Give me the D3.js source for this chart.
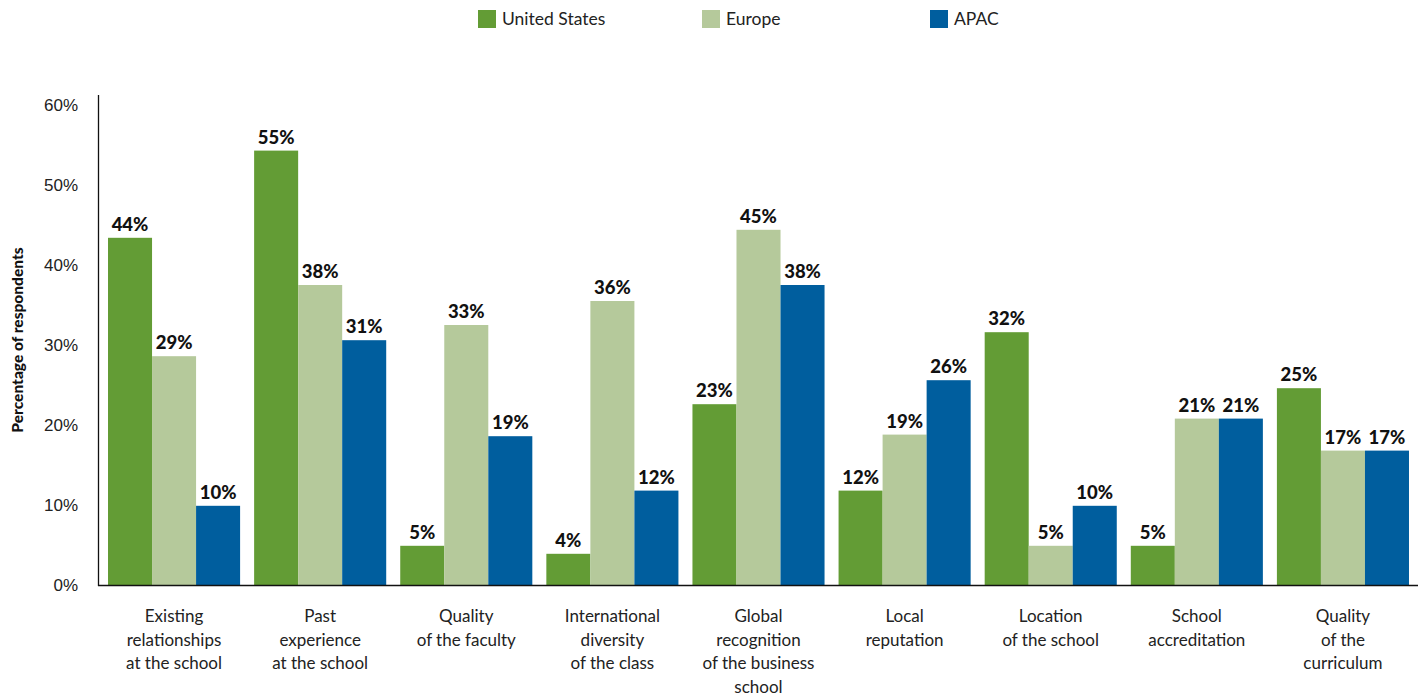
<!DOCTYPE html>
<html>
<head>
<meta charset="utf-8">
<script src="https://cdn.jsdelivr.net/npm/d3@7"></script>
<style>
  body { margin: 0; background: #fff; font-family: Lato, "Noto Sans", sans-serif; }
  .tick text { font-size: 17px; fill: #222; }
  .val { font-size: 18.5px; font-weight: 900; fill: #111; }
</style>
</head>
<body>
<svg id="chart" width="1418" height="696"></svg>
<script>
var categories = [
    ["Existing", "relationships", "at the school"],
    ["Past", "experience", "at the school"],
    ["Quality", "of the faculty"],
    ["International", "diversity", "of the class"],
    ["Global", "recognition", "of the business", "school"],
    ["Local", "reputation"],
    ["Location", "of the school"],
    ["School", "accreditation"],
    ["Quality", "of the", "curriculum"]
];
var seriesNames = ["United States", "Europe", "APAC"];
var colors = ["#639c35", "#b5c99b", "#005e9e"];

// bar heights, labels as printed
var usValues     = [43.4, 54.3, 4.9, 3.9, 22.6, 11.8, 31.6, 4.9, 24.6];
var europeValues = [28.6, 37.5, 32.5, 35.5, 44.4, 18.8, 4.9, 20.8, 16.8];
var apacValues   = [9.9, 30.6, 18.6, 11.8, 37.5, 25.6, 9.9, 20.8, 16.8];
var usLabels     = ["44%", "55%", "5%", "4%", "23%", "12%", "32%", "5%", "25%"];
var europeLabels = ["29%", "38%", "33%", "36%", "45%", "19%", "5%", "21%", "17%"];
var apacLabels   = ["10%", "31%", "19%", "12%", "38%", "26%", "10%", "21%", "17%"];
var yTicks = [0, 10, 20, 30, 40, 50, 60];

var values = [usValues, europeValues, apacValues];
var labels = [usLabels, europeLabels, apacLabels];

var svg = d3.select("#chart");

var x0 = d3.scaleBand()
    .domain(d3.range(categories.length))
    .range([101, 1416])
    .paddingInner(0.096)
    .paddingOuter(0.048);

var x1 = d3.scaleBand()
    .domain(d3.range(seriesNames.length))
    .range([0, x0.bandwidth()]);

var y = d3.scaleLinear()
    .domain([0, 60])
    .range([585, 105]);

// y axis
var yAxis = svg.append("g")
    .attr("transform", "translate(98,0)")
    .call(d3.axisLeft(y).tickValues(yTicks).tickSize(0).tickPadding(20).tickFormat(function(d) { return d + "%"; }));
yAxis.select(".domain").remove();
yAxis.selectAll("text").attr("dy", "0.35em");

svg.append("line")
    .attr("x1", 98.5).attr("x2", 98.5)
    .attr("y1", 95).attr("y2", 586)
    .attr("stroke", "#111").attr("stroke-width", 1.3);

svg.append("text")
    .attr("transform", "translate(23,340) rotate(-90)")
    .attr("text-anchor", "middle")
    .style("font-size", "15.5px")
    .style("font-weight", "900")
    .style("fill", "#111")
    .text("Percentage of respondents");

// bars
var groups = svg.selectAll(".grp")
    .data(categories)
    .enter().append("g")
    .attr("class", "grp")
    .attr("transform", function(d, i) { return "translate(" + x0(i) + ",0)"; });

groups.each(function(c, i) {
    var g = d3.select(this);
    seriesNames.forEach(function(s, j) {
        var v = values[j][i];
        g.append("rect")
            .attr("x", x1(j))
            .attr("y", y(v))
            .attr("width", x1.bandwidth())
            .attr("height", y(0) - y(v))
            .attr("fill", colors[j]);
        g.append("text")
            .attr("class", "val")
            .attr("x", x1(j) + x1.bandwidth() / 2)
            .attr("y", y(v) - 7)
            .attr("text-anchor", "middle")
            .text(labels[j][i]);
    });
    var t = g.append("text")
        .attr("x", x0.bandwidth() / 2)
        .attr("y", 622)
        .attr("text-anchor", "middle")
        .style("font-size", "17px")
        .style("fill", "#222");
    c.forEach(function(line, k) {
        t.append("tspan")
            .attr("x", x0.bandwidth() / 2)
            .attr("dy", k === 0 ? 0 : 23.5)
            .text(line);
    });
});

// x axis line
svg.append("line")
    .attr("x1", 98).attr("x2", 1418)
    .attr("y1", 585.5).attr("y2", 585.5)
    .attr("stroke", "#111").attr("stroke-width", 1.3);

// legend
var legendX = [478, 702, 930];
var legend = svg.selectAll(".leg")
    .data(seriesNames)
    .enter().append("g")
    .attr("transform", function(d, i) { return "translate(" + legendX[i] + ",10)"; });
legend.append("rect")
    .attr("width", 18).attr("height", 18)
    .attr("fill", function(d, i) { return colors[i]; });
legend.append("text")
    .attr("x", 24).attr("y", 15)
    .style("font-size", "17.5px")
    .style("fill", "#222")
    .text(function(d) { return d; });
</script>
</body>
</html>
